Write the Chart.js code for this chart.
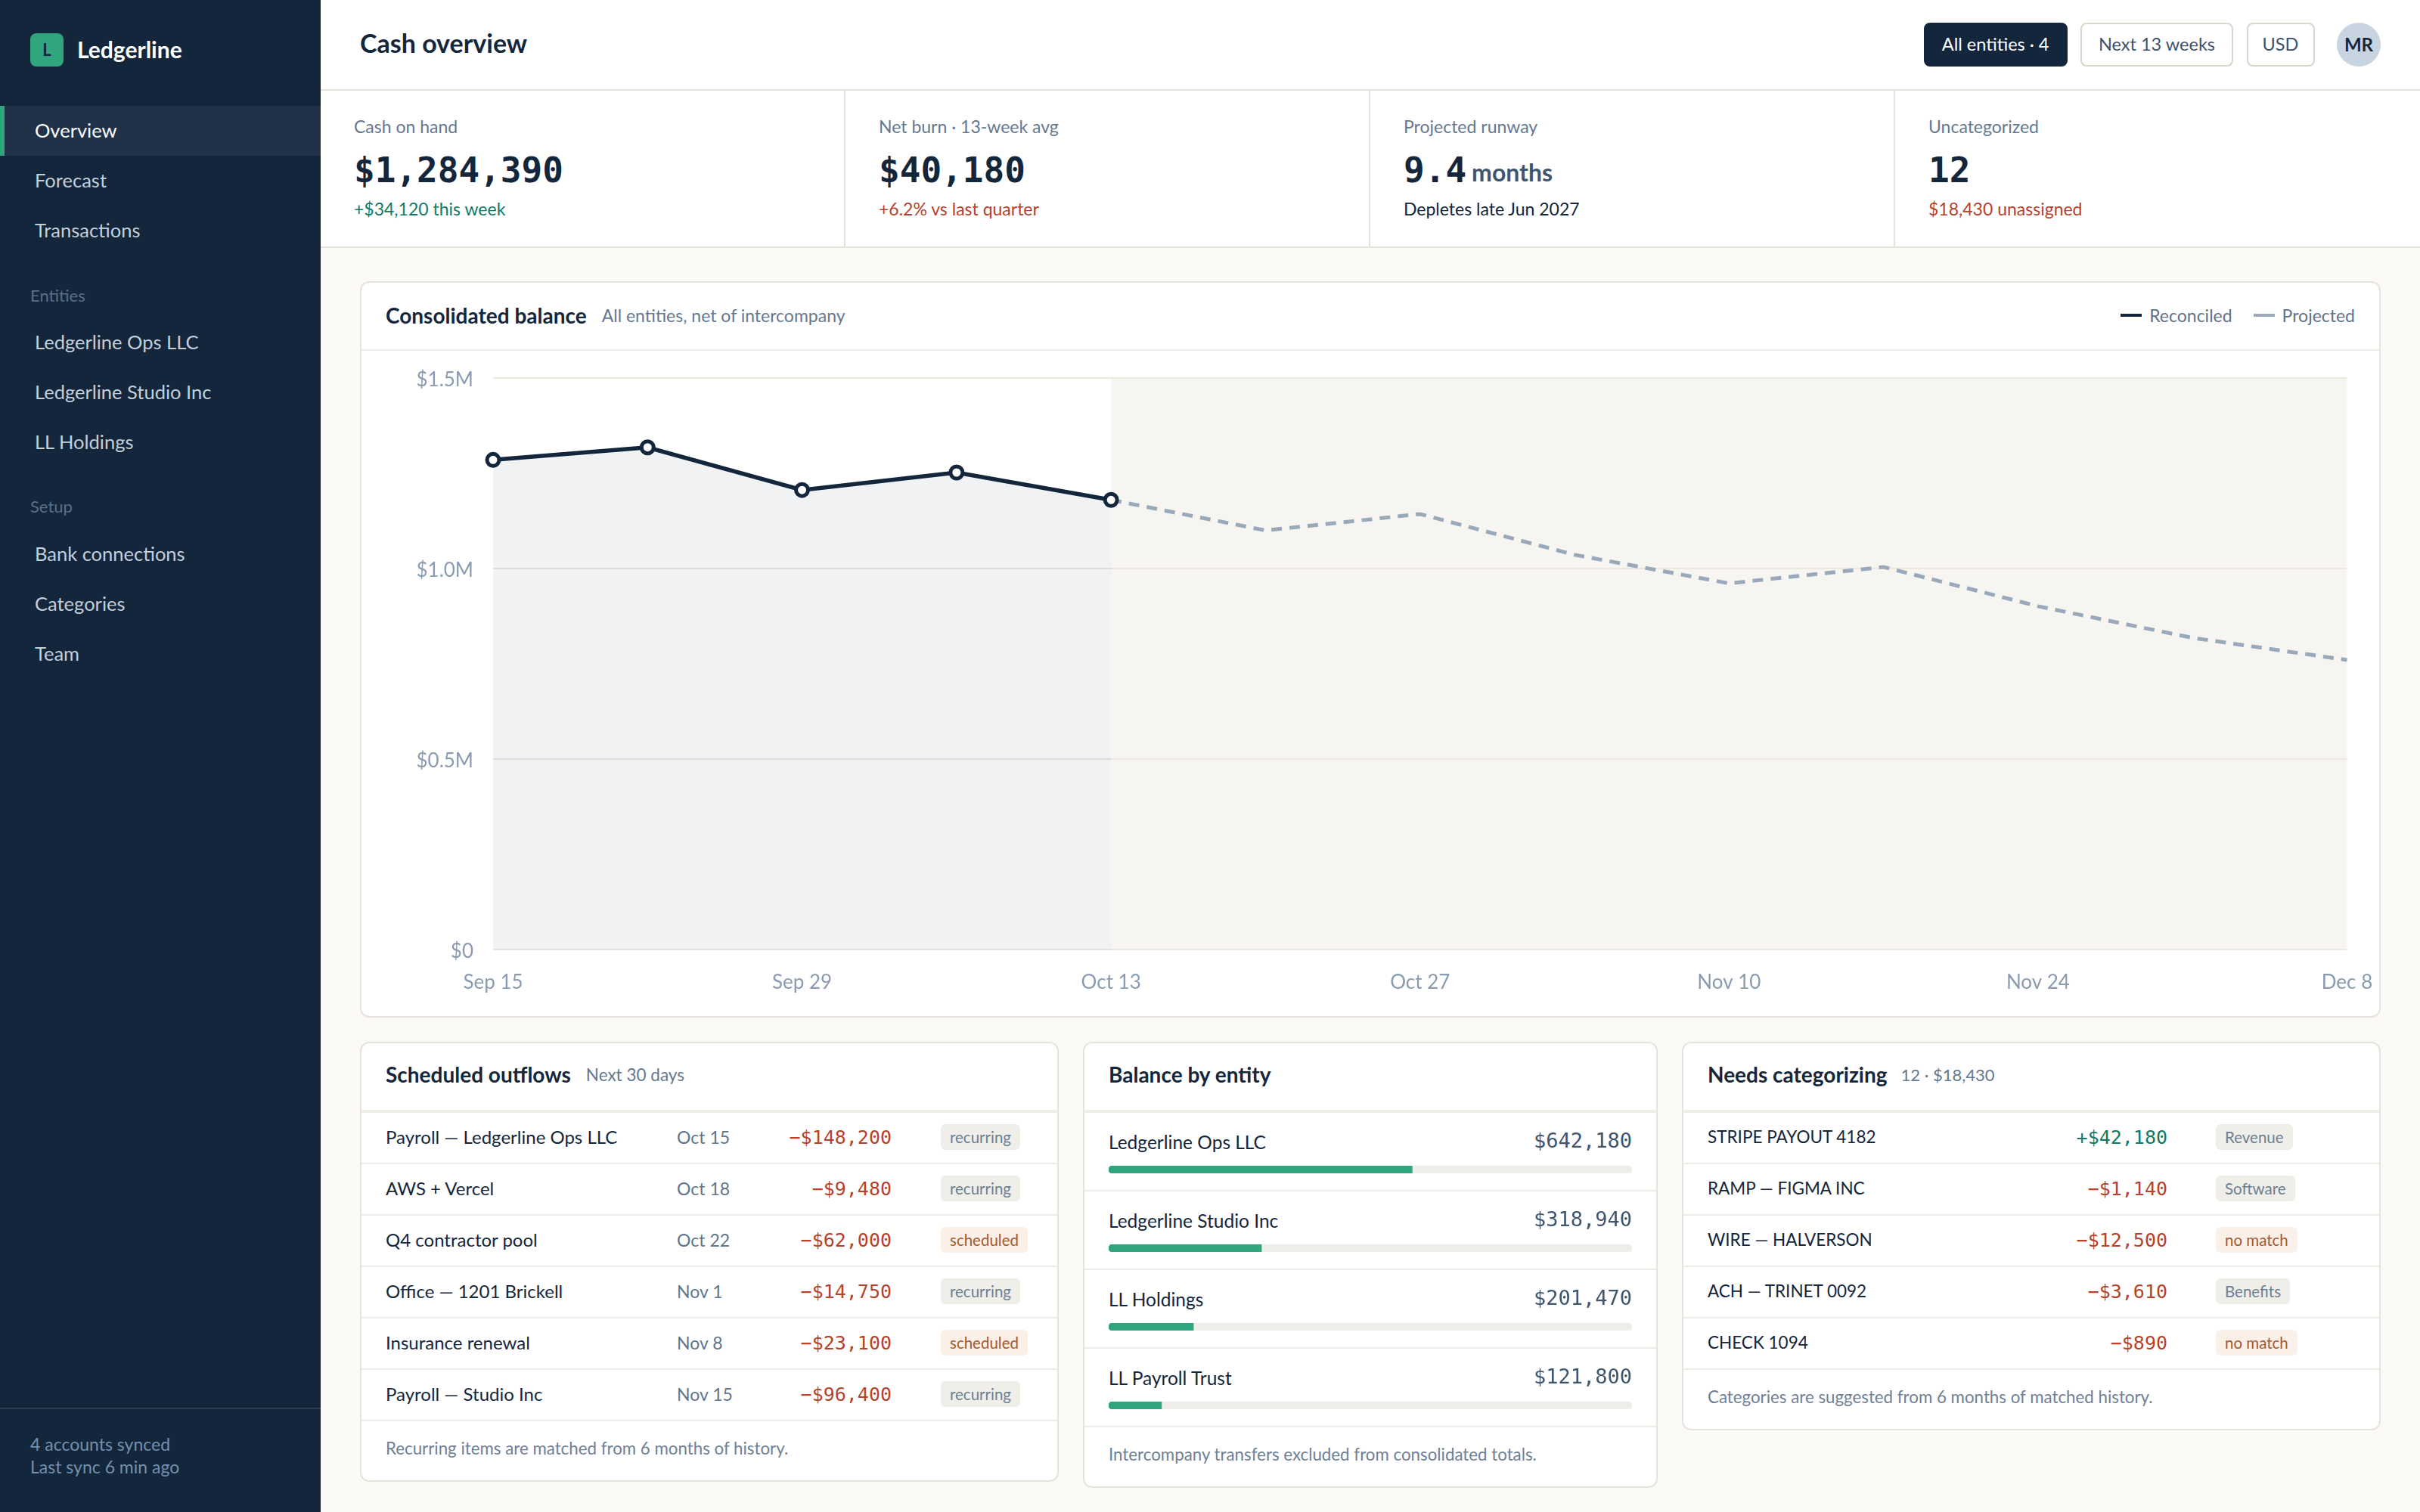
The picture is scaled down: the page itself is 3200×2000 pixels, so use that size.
<!DOCTYPE html>
<html lang="en">
<head>
<meta charset="utf-8">
<title>Ledgerline - Cash overview</title>
<script src="https://cdn.jsdelivr.net/npm/chart.js@4"></script>
<style>
* { box-sizing: border-box; margin: 0; padding: 0; }
html, body { width: 3200px; height: 2000px; overflow: hidden; }
body { font-family: Lato, sans-serif; color: #13263b; background: #fbfaf7; position: relative; }
.mono { font-family: "DejaVu Sans Mono", monospace; }

/* sidebar */
.sidebar { position: absolute; left: 0; top: 0; width: 424px; height: 2000px; background: #13263b; }
.logo { position: absolute; left: 40px; top: 44px; width: 44px; height: 44px; background: #2fa67d; border-radius: 8px; color: #13263b; font-weight: 700; font-size: 22px; line-height: 44px; text-align: center; }
.brand { position: absolute; left: 102px; top: 45px; font-size: 30px; line-height: 40px; font-weight: 700; color: #fff; }
.nav { position: absolute; left: 0; width: 424px; height: 66px; line-height: 64px; padding-left: 46px; font-size: 25.5px; color: #c3cfdb; }
.nav.active { background: #213248; color: #fff; border-left: 6px solid #2fa67d; padding-left: 40px; }
.group { position: absolute; left: 40px; font-size: 22px; line-height: 30px; color: #5a6f86; }
.sync { position: absolute; left: 0; top: 1862px; width: 424px; height: 138px; border-top: 2px solid #2a3c50; padding: 31px 0 0 40px; font-size: 23px; line-height: 30px; color: #7490ae; }

/* top bar */
.topbar { position: absolute; left: 424px; top: 0; width: 2776px; height: 120px; background: #fff; border-bottom: 2px solid #e6e3dc; }
.topbar h1 { position: absolute; left: 52px; top: 33px; font-size: 34px; line-height: 48px; font-weight: 700; }
.controls { position: absolute; right: 52px; top: 30px; display: flex; gap: 17.5px; align-items: center; }
.chip { height: 58px; line-height: 52px; padding: 0 22px; border: 2px solid #d9d6cb; border-radius: 8px; font-size: 23.5px; color: #3f5269; background: #fff; }
.chip.on { background: #13263b; border-color: #13263b; color: #fff; }
.chip.narrow { width: 90px; padding: 0; text-align: center; }
.avatar { width: 58px; height: 58px; line-height: 58px; margin-left: 12px; border-radius: 50%; background: #c8d4e0; text-align: center; font-size: 24px; font-weight: 700; }

/* kpis */
.kpis { position: absolute; left: 424px; top: 120px; width: 2776px; height: 208px; display: flex; background: #fff; border-bottom: 2px solid #e6e3dc; }
.kpi { width: 694px; padding: 31px 0 0 44px; border-right: 2px solid #e6e3dc; }
.kpi:last-child { border-right: 0; }
.kpi .label { font-size: 23px; line-height: 32px; color: #64788f; }
.kpi .value { font-size: 46px; line-height: 60px; margin-top: 12px; font-weight: 700; height: 60px; }
.kpi .value span { position: relative; top: -1px; font-family: Lato, sans-serif; font-size: 32px; color: #3f5671; margin-left: 7px; }
.kpi .note { font-size: 23px; line-height: 32px; margin-top: 5px; }
.up { color: #0f7b66; }
.down { color: #b8412b; }

/* cards */
.card { position: absolute; background: #fff; border: 2px solid #e6e3dc; border-radius: 12px; }
.card-head { height: 92px; border-bottom: 4px solid #efede8; padding: 0 32px; display: flex; align-items: center; gap: 20px; padding-bottom: 6px; }
.card-head b { font-size: 28px; font-weight: 700; }
.card-head span { font-size: 22.5px; color: #64788f; }
.row { height: 68px; border-bottom: 2px solid #efede8; padding: 0 32px 3px; display: grid; align-items: center; font-size: 24px; }
.row > div { grid-row: 1; }
.row .date { font-size: 23px; color: #60758c; }
.row .amt { position: relative; top: 1px; font-size: 25px; text-align: right; }
.pill { justify-self: start; height: 34px; line-height: 34px; padding: 0 12px; border-radius: 6px; font-size: 20.5px; background: #f0eee9; color: #6b7f93; }
.pill.warn { background: #fbf0e8; color: #a35a2d; }
.foot { height: 78px; padding: 21px 32px 0; font-size: 22.3px; line-height: 30px; color: #6f8095; }
.entity { height: 104px; border-bottom: 2px solid #efede8; padding: 24px 32px 0; }
.entity .top { display: flex; justify-content: space-between; height: 30px; line-height: 30px; font-size: 24.5px; }
.entity .top .mono { position: relative; top: -2px; font-size: 27px; color: #3f5671; }
.entity canvas { display: block; margin-top: 16px; }

/* chart card */
#balanceCard { left: 476px; top: 372px; width: 2672px; height: 974px; }
#balanceCard .card-head { height: 90px; border-bottom-width: 2px; justify-content: flex-start; padding-bottom: 3px; }
#balanceCard .card-head span { font-size: 23px; }
.legend { margin-left: auto; display: flex; align-items: center; }
.legend i { display: block; width: 28px; height: 4px; margin-right: 10px; }
.legend em { font-style: normal; font-size: 23px; color: #5f7288; margin-right: 28px; }
.legend em:last-child { margin-right: 0; }
#balanceChart { display: block; }
</style>
</head>
<body>
<div class="sidebar">
  <div class="logo">L</div>
  <div class="brand">Ledgerline</div>
  <div class="nav active" style="top:140px">Overview</div>
  <div class="nav" style="top:206px">Forecast</div>
  <div class="nav" style="top:272px">Transactions</div>
  <div class="group" style="top:376px">Entities</div>
  <div class="nav" style="top:420px">Ledgerline Ops LLC</div>
  <div class="nav" style="top:486px">Ledgerline Studio Inc</div>
  <div class="nav" style="top:552px">LL Holdings</div>
  <div class="group" style="top:655px">Setup</div>
  <div class="nav" style="top:700px">Bank connections</div>
  <div class="nav" style="top:766px">Categories</div>
  <div class="nav" style="top:832px">Team</div>
  <div class="sync">4 accounts synced<br>Last sync 6 min ago</div>
</div>

<div class="topbar">
  <h1>Cash overview</h1>
  <div class="controls">
    <div class="chip on">All entities · 4</div>
    <div class="chip">Next 13 weeks</div>
    <div class="chip narrow">USD</div>
    <div class="avatar">MR</div>
  </div>
</div>

<div class="kpis">
  <div class="kpi"><div class="label">Cash on hand</div><div class="value mono">$1,284,390</div><div class="note up">+$34,120 this week</div></div>
  <div class="kpi"><div class="label">Net burn · 13-week avg</div><div class="value mono">$40,180</div><div class="note down">+6.2% vs last quarter</div></div>
  <div class="kpi"><div class="label">Projected runway</div><div class="value mono">9.4<span>months</span></div><div class="note">Depletes late Jun 2027</div></div>
  <div class="kpi"><div class="label">Uncategorized</div><div class="value mono">12</div><div class="note down">$18,430 unassigned</div></div>
</div>

<div class="card" id="balanceCard">
  <div class="card-head">
    <b>Consolidated balance</b><span>All entities, net of intercompany</span>
    <div class="legend"><i style="background:#13263b"></i><em>Reconciled</em><i style="background:#9aa9ba"></i><em>Projected</em></div>
  </div>
  <canvas id="balanceChart" width="2668" height="880"></canvas>
</div>

<div class="card" style="left:476px;top:1378px;width:924px">
  <div class="card-head"><b>Scheduled outflows</b><span>Next 30 days</span></div>
  <div id="outflowRows"></div>
  <div class="foot">Recurring items are matched from 6 months of history.</div>
</div>

<div class="card" style="left:1432px;top:1378px;width:760px">
  <div class="card-head"><b>Balance by entity</b></div>
  <div id="entityRows"></div>
  <div class="foot">Intercompany transfers excluded from consolidated totals.</div>
</div>

<div class="card" style="left:2224px;top:1378px;width:924px">
  <div class="card-head" style="gap:18px"><b>Needs categorizing</b><span style="font-size:22px">12 · $18,430</span></div>
  <div id="reviewRows"></div>
  <div class="foot">Categories are suggested from 6 months of matched history.</div>
</div>

<script>
// datos del grafico principal
const weekLabels = ['Sep 15', 'Sep 22', 'Sep 29', 'Oct 6', 'Oct 13', 'Oct 20', 'Oct 27', 'Nov 3', 'Nov 10', 'Nov 17', 'Nov 24', 'Dec 1', 'Dec 8'];
const reconciledValues = [1285000, 1318000, 1206000, 1252000, 1180000, null, null, null, null, null, null, null, null];
const projectedValues = [null, null, null, null, 1180000, 1100000, 1143000, 1036000, 961000, 1004000, 901000, 818000, 760000];
const balanceTicks = ['$0', '$0.5M', '$1.0M', '$1.5M'];

// tabla de salidas
const outflowNames = ['Payroll — Ledgerline Ops LLC', 'AWS + Vercel', 'Q4 contractor pool', 'Office — 1201 Brickell', 'Insurance renewal', 'Payroll — Studio Inc'];
const outflowDates = ['Oct 15', 'Oct 18', 'Oct 22', 'Nov 1', 'Nov 8', 'Nov 15'];
const outflowAmounts = ['−$148,200', '−$9,480', '−$62,000', '−$14,750', '−$23,100', '−$96,400'];
const outflowTags = ['recurring', 'recurring', 'scheduled', 'recurring', 'scheduled', 'recurring'];

// balance por entidad
const entityNames = ['Ledgerline Ops LLC', 'Ledgerline Studio Inc', 'LL Holdings', 'LL Payroll Trust'];
const entityBalances = ['$642,180', '$318,940', '$201,470', '$121,800'];
const entityShares = [58, 29.2, 16.2, 10.1];

// movimientos sin categoria
const reviewNames = ['STRIPE PAYOUT 4182', 'RAMP — FIGMA INC', 'WIRE — HALVERSON', 'ACH — TRINET 0092', 'CHECK 1094'];
const reviewAmounts = ['+$42,180', '−$1,140', '−$12,500', '−$3,610', '−$890'];
const reviewTags = ['Revenue', 'Software', 'no match', 'Benefits', 'no match'];

const warnTags = ['scheduled', 'no match'];
const pillClass = (tag) => (warnTags.includes(tag) ? 'pill warn' : 'pill');

// filas de la tabla de salidas
document.getElementById('outflowRows').innerHTML = outflowNames.map((name, i) => `
  <div class="row" style="grid-template-columns:385px 284px 1fr">
    <div style="grid-column:1">${name}</div>
    <div class="date" style="grid-column:2">${outflowDates[i]}</div>
    <div class="amt mono down" style="grid-column:2">${outflowAmounts[i]}</div>
    <div class="${pillClass(outflowTags[i])}" style="grid-column:3;margin-left:65px">${outflowTags[i]}</div>
  </div>`).join('');

// filas de movimientos
document.getElementById('reviewRows').innerHTML = reviewNames.map((name, i) => `
  <div class="row" style="grid-template-columns:608px 1fr;font-size:22.5px">
    <div style="grid-column:1">${name}</div>
    <div class="amt mono ${reviewAmounts[i][0] === '+' ? 'up' : 'down'}" style="grid-column:1">${reviewAmounts[i]}</div>
    <div class="${pillClass(reviewTags[i])}" style="grid-column:2;margin-left:64px">${reviewTags[i]}</div>
  </div>`).join('');

// filas de entidades, cada barra es un grafico chico
document.getElementById('entityRows').innerHTML = entityNames.map((name, i) => `
  <div class="entity">
    <div class="top"><div>${name}</div><div class="mono">${entityBalances[i]}</div></div>
    <canvas id="entityBar${i}" width="692" height="10"></canvas>
  </div>`).join('');

const crearBarraEntidad = (share, i) => {
    new Chart(document.getElementById(`entityBar${i}`), {
        type: 'bar',
        data: {
            labels: [entityNames[i]],
            datasets: [
                { data: [share], backgroundColor: '#2fa67d', grouped: false, borderSkipped: false, borderRadius: { topLeft: 5, bottomLeft: 5, topRight: 0, bottomRight: 0 } },
                { data: [100], backgroundColor: '#efede8', grouped: false, borderSkipped: false, borderRadius: 5 },
            ],
        },
        options: {
            indexAxis: 'y',
            responsive: false,
            animation: false,
            barPercentage: 1,
            categoryPercentage: 1,
            plugins: { legend: { display: false }, tooltip: { enabled: false } },
            scales: {
                x: { display: false, min: 0, max: 100 },
                y: { display: false },
            },
        },
    });
};
entityShares.forEach(crearBarraEntidad);

// banda de fondo para la parte proyectada, va debajo de la grilla
const bandaProyectada = {
    id: 'bandaProyectada',
    beforeDraw(chart) {
        const { ctx, chartArea, scales } = chart;
        const desde = scales.x.getPixelForValue(projectedValues.findIndex((v) => v !== null));
        ctx.save();
        ctx.fillStyle = '#f6f5f1';
        ctx.fillRect(desde, chartArea.top, chartArea.right - desde, chartArea.bottom - chartArea.top);
        ctx.restore();
    },
};

// grafico principal
new Chart(document.getElementById('balanceChart'), {
    type: 'line',
    data: {
        labels: weekLabels,
        datasets: [
            {
                label: 'Reconciled',
                data: reconciledValues,
                borderColor: '#13263b',
                borderWidth: 5.5,
                backgroundColor: 'rgba(19, 38, 59, 0.06)',
                fill: 'origin',
                tension: 0,
                clip: false,
                pointRadius: 8,
                pointBorderWidth: 5,
                pointBorderColor: '#13263b',
                pointBackgroundColor: '#fff',
            },
            {
                label: 'Projected',
                data: projectedValues,
                borderColor: '#9aa9ba',
                borderWidth: 5,
                borderDash: [14, 10],
                fill: false,
                tension: 0,
                pointRadius: 0,
            },
        ],
    },
    options: {
        responsive: false,
        animation: false,
        layout: { autoPadding: false, padding: { top: 36, right: 42.5 } },
        plugins: { legend: { display: false }, tooltip: { enabled: false } },
        scales: {
            x: {
                grid: { display: false },
                border: { display: false },
                afterFit: (scale) => {
                    scale.height = 88;
                    scale.paddingLeft = 0;
                    scale.paddingRight = 0;
                },
                ticks: {
                    autoSkip: false,
                    maxRotation: 0,
                    padding: 20,
                    color: '#8b9bb0',
                    font: { family: 'Lato', size: 26 },
                    callback: (value, i) => (i % 2 === 0 ? weekLabels[i] : ''),
                },
            },
            y: {
                min: 0,
                max: 1500000,
                border: { display: false },
                grid: { color: '#ebe9de', lineWidth: 2, drawTicks: false },
                afterFit: (scale) => {
                    scale.width = 174;
                    scale.paddingTop = 0;
                    scale.paddingBottom = 0;
                },
                ticks: {
                    stepSize: 500000,
                    padding: 26,
                    labelOffset: 3,
                    color: '#8b9bb0',
                    font: { family: 'Lato', size: 26 },
                    callback: (value, i) => balanceTicks[i],
                },
            },
        },
    },
    plugins: [bandaProyectada],
});
</script>
</body>
</html>
